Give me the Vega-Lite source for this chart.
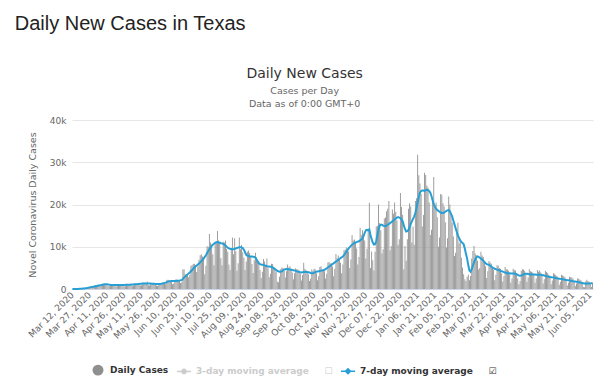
{
"$schema": "https://vega.github.io/schema/vega-lite/v6.json",
"background": "white",
"padding": {"left": 14, "top": 13, "right": 9, "bottom": 5},
"title": {"text": "Daily New Cases in Texas", "anchor": "start", "frame": "bounds", "font": "Liberation Sans", "fontSize": 20, "fontWeight": "normal", "color": "#222222", "dx": -12, "offset": 33},
"config": {"view": {"stroke": null}, "font": "DejaVu Sans"},
"vconcat": [{
"width": 521,
"height": 169,
"title": {"text": "Daily New Cases", "subtitle": ["Cases per Day", "Data as of 0:00 GMT+0"], "anchor": "middle", "frame": "bounds", "dx": -7, "font": "DejaVu Sans", "fontSize": 14, "fontWeight": "normal", "color": "#333333", "subtitleFont": "DejaVu Sans", "subtitleFontSize": 9.5, "subtitleColor": "#666666", "subtitlePadding": 5, "subtitleLineHeight": 13, "offset": 8},
"data": {"values": [
{"date":"2020-03-12","cases":5,"avg":5},{"date":"2020-03-13","cases":15,"avg":8},{"date":"2020-03-14","cases":10,"avg":10},{"date":"2020-03-15","cases":15,"avg":12},{"date":"2020-03-16","cases":25,"avg":15},{"date":"2020-03-17","cases":40,"avg":20},{"date":"2020-03-18","cases":80,"avg":30},{"date":"2020-03-19","cases":120,"avg":45},{"date":"2020-03-20","cases":160,"avg":65},{"date":"2020-03-21","cases":180,"avg":90},{"date":"2020-03-22","cases":170,"avg":120},{"date":"2020-03-23","cases":300,"avg":160},{"date":"2020-03-24","cases":380,"avg":210},{"date":"2020-03-25","cases":420,"avg":260},{"date":"2020-03-26","cases":500,"avg":320},{"date":"2020-03-27","cases":540,"avg":380},{"date":"2020-03-28","cases":520,"avg":440},{"date":"2020-03-29","cases":430,"avg":490},{"date":"2020-03-30","cases":560,"avg":540},{"date":"2020-03-31","cases":780,"avg":600},
{"date":"2020-04-01","cases":880,"avg":660},{"date":"2020-04-02","cases":940,"avg":720},{"date":"2020-04-03","cases":1000,"avg":780},{"date":"2020-04-04","cases":900,"avg":830},{"date":"2020-04-05","cases":700,"avg":880},{"date":"2020-04-06","cases":800,"avg":930},{"date":"2020-04-07","cases":1150,"avg":990},{"date":"2020-04-08","cases":1250,"avg":1050},{"date":"2020-04-09","cases":1200,"avg":1100},{"date":"2020-04-10","cases":1150,"avg":1120},{"date":"2020-04-11","cases":900,"avg":1100},{"date":"2020-04-12","cases":650,"avg":1060},{"date":"2020-04-13","cases":700,"avg":1020},{"date":"2020-04-14","cases":1050,"avg":990},{"date":"2020-04-15","cases":1100,"avg":970},{"date":"2020-04-16","cases":1050,"avg":960},{"date":"2020-04-17","cases":1000,"avg":950},{"date":"2020-04-18","cases":850,"avg":950},{"date":"2020-04-19","cases":600,"avg":940},{"date":"2020-04-20","cases":720,"avg":940},{"date":"2020-04-21","cases":1100,"avg":950},{"date":"2020-04-22","cases":1150,"avg":950},{"date":"2020-04-23","cases":1100,"avg":960},{"date":"2020-04-24","cases":1050,"avg":960},{"date":"2020-04-25","cases":900,"avg":970},{"date":"2020-04-26","cases":580,"avg":970},{"date":"2020-04-27","cases":750,"avg":980},{"date":"2020-04-28","cases":1150,"avg":990},{"date":"2020-04-29","cases":1200,"avg":1000},{"date":"2020-04-30","cases":1150,"avg":1010},
{"date":"2020-05-01","cases":1150,"avg":1030},{"date":"2020-05-02","cases":1000,"avg":1050},{"date":"2020-05-03","cases":700,"avg":1070},{"date":"2020-05-04","cases":800,"avg":1090},{"date":"2020-05-05","cases":1250,"avg":1110},{"date":"2020-05-06","cases":1300,"avg":1130},{"date":"2020-05-07","cases":1250,"avg":1150},{"date":"2020-05-08","cases":1300,"avg":1180},{"date":"2020-05-09","cases":1100,"avg":1210},{"date":"2020-05-10","cases":800,"avg":1240},{"date":"2020-05-11","cases":900,"avg":1260},{"date":"2020-05-12","cases":1500,"avg":1280},{"date":"2020-05-13","cases":1450,"avg":1300},{"date":"2020-05-14","cases":1400,"avg":1310},{"date":"2020-05-15","cases":1450,"avg":1320},{"date":"2020-05-16","cases":1800,"avg":1330},{"date":"2020-05-17","cases":900,"avg":1320},{"date":"2020-05-18","cases":850,"avg":1300},{"date":"2020-05-19","cases":1300,"avg":1280},{"date":"2020-05-20","cases":1250,"avg":1260},{"date":"2020-05-21","cases":1200,"avg":1240},{"date":"2020-05-22","cases":1250,"avg":1220},{"date":"2020-05-23","cases":1100,"avg":1200},{"date":"2020-05-24","cases":800,"avg":1190},{"date":"2020-05-25","cases":700,"avg":1180},{"date":"2020-05-26","cases":1100,"avg":1190},{"date":"2020-05-27","cases":1300,"avg":1210},{"date":"2020-05-28","cases":1350,"avg":1240},{"date":"2020-05-29","cases":1500,"avg":1280},{"date":"2020-05-30","cases":1600,"avg":1330},{"date":"2020-05-31","cases":1300,"avg":1400},
{"date":"2020-06-01","cases":1100,"avg":1500},{"date":"2020-06-02","cases":2100,"avg":1620},{"date":"2020-06-03","cases":2200,"avg":1750},{"date":"2020-06-04","cases":2000,"avg":1830},{"date":"2020-06-05","cases":1900,"avg":1860},{"date":"2020-06-06","cases":1800,"avg":1880},{"date":"2020-06-07","cases":1100,"avg":1890},{"date":"2020-06-08","cases":1300,"avg":1900},{"date":"2020-06-09","cases":2100,"avg":1900},{"date":"2020-06-10","cases":2300,"avg":1920},{"date":"2020-06-11","cases":2200,"avg":1950},{"date":"2020-06-12","cases":2100,"avg":1980},{"date":"2020-06-13","cases":2000,"avg":2010},{"date":"2020-06-14","cases":1400,"avg":2050},{"date":"2020-06-15","cases":1600,"avg":2100},{"date":"2020-06-16","cases":4600,"avg":2400},{"date":"2020-06-17","cases":4700,"avg":2700},{"date":"2020-06-18","cases":3500,"avg":2950},{"date":"2020-06-19","cases":3400,"avg":3200},{"date":"2020-06-20","cases":3500,"avg":3450},{"date":"2020-06-21","cases":2800,"avg":3650},{"date":"2020-06-22","cases":3300,"avg":3900},{"date":"2020-06-23","cases":5500,"avg":4200},{"date":"2020-06-24","cases":5600,"avg":4500},{"date":"2020-06-25","cases":5900,"avg":4800},{"date":"2020-06-26","cases":6000,"avg":5100},{"date":"2020-06-27","cases":5700,"avg":5350},{"date":"2020-06-28","cases":4000,"avg":5550},{"date":"2020-06-29","cases":5300,"avg":5800},{"date":"2020-06-30","cases":6900,"avg":6050},
{"date":"2020-07-01","cases":8000,"avg":6300},{"date":"2020-07-02","cases":8200,"avg":6600},{"date":"2020-07-03","cases":7700,"avg":6900},{"date":"2020-07-04","cases":7400,"avg":7200},{"date":"2020-07-05","cases":3500,"avg":7600},{"date":"2020-07-06","cases":5500,"avg":8000},{"date":"2020-07-07","cases":10100,"avg":8500},{"date":"2020-07-08","cases":10000,"avg":9000},{"date":"2020-07-09","cases":13000,"avg":9400},{"date":"2020-07-10","cases":11000,"avg":9800},{"date":"2020-07-11","cases":10500,"avg":10200},{"date":"2020-07-12","cases":8200,"avg":10500},{"date":"2020-07-13","cases":5600,"avg":10700},{"date":"2020-07-14","cases":10700,"avg":10900},{"date":"2020-07-15","cases":11000,"avg":11050},{"date":"2020-07-16","cases":13700,"avg":11100},{"date":"2020-07-17","cases":11500,"avg":11050},{"date":"2020-07-18","cases":11000,"avg":10950},{"date":"2020-07-19","cases":7300,"avg":10850},{"date":"2020-07-20","cases":5600,"avg":10800},{"date":"2020-07-21","cases":11200,"avg":10700},{"date":"2020-07-22","cases":11000,"avg":10500},{"date":"2020-07-23","cases":11500,"avg":10300},{"date":"2020-07-24","cases":9500,"avg":10000},{"date":"2020-07-25","cases":8800,"avg":9800},{"date":"2020-07-26","cases":5800,"avg":9600},{"date":"2020-07-27","cases":4500,"avg":9500},{"date":"2020-07-28","cases":9500,"avg":9450},{"date":"2020-07-29","cases":12200,"avg":9400},{"date":"2020-07-30","cases":8200,"avg":9400},{"date":"2020-07-31","cases":12000,"avg":9500},
{"date":"2020-08-01","cases":9000,"avg":9600},{"date":"2020-08-02","cases":4300,"avg":9700},{"date":"2020-08-03","cases":6100,"avg":9800},{"date":"2020-08-04","cases":12200,"avg":9900},{"date":"2020-08-05","cases":9400,"avg":9900},{"date":"2020-08-06","cases":10400,"avg":9850},{"date":"2020-08-07","cases":8700,"avg":9700},{"date":"2020-08-08","cases":7400,"avg":9300},{"date":"2020-08-09","cases":4500,"avg":8700},{"date":"2020-08-10","cases":6500,"avg":8100},{"date":"2020-08-11","cases":8800,"avg":7900},{"date":"2020-08-12","cases":9100,"avg":7800},{"date":"2020-08-13","cases":8500,"avg":7700},{"date":"2020-08-14","cases":7800,"avg":7700},{"date":"2020-08-15","cases":5900,"avg":7700},{"date":"2020-08-16","cases":3800,"avg":7650},{"date":"2020-08-17","cases":6800,"avg":7600},{"date":"2020-08-18","cases":8600,"avg":7400},{"date":"2020-08-19","cases":7500,"avg":7000},{"date":"2020-08-20","cases":6800,"avg":6500},{"date":"2020-08-21","cases":6500,"avg":6100},{"date":"2020-08-22","cases":4500,"avg":5900},{"date":"2020-08-23","cases":2600,"avg":5800},{"date":"2020-08-24","cases":4100,"avg":5750},{"date":"2020-08-25","cases":7100,"avg":5700},{"date":"2020-08-26","cases":6500,"avg":5600},{"date":"2020-08-27","cases":5700,"avg":5500},{"date":"2020-08-28","cases":7200,"avg":5400},{"date":"2020-08-29","cases":4900,"avg":5350},{"date":"2020-08-30","cases":2800,"avg":5300},{"date":"2020-08-31","cases":3600,"avg":5250},
{"date":"2020-09-01","cases":6000,"avg":5200},{"date":"2020-09-02","cases":5900,"avg":5100},{"date":"2020-09-03","cases":5200,"avg":4900},{"date":"2020-09-04","cases":4800,"avg":4700},{"date":"2020-09-05","cases":4100,"avg":4500},{"date":"2020-09-06","cases":1800,"avg":4300},{"date":"2020-09-07","cases":1600,"avg":4200},{"date":"2020-09-08","cases":2900,"avg":4100},{"date":"2020-09-09","cases":4700,"avg":4100},{"date":"2020-09-10","cases":5100,"avg":4200},{"date":"2020-09-11","cases":5000,"avg":4400},{"date":"2020-09-12","cases":4300,"avg":4600},{"date":"2020-09-13","cases":2700,"avg":4700},{"date":"2020-09-14","cases":4200,"avg":4750},{"date":"2020-09-15","cases":5800,"avg":4700},{"date":"2020-09-16","cases":5100,"avg":4650},{"date":"2020-09-17","cases":5400,"avg":4600},{"date":"2020-09-18","cases":4800,"avg":4550},{"date":"2020-09-19","cases":3900,"avg":4500},{"date":"2020-09-20","cases":2300,"avg":4450},{"date":"2020-09-21","cases":3700,"avg":4400},{"date":"2020-09-22","cases":4900,"avg":4300},{"date":"2020-09-23","cases":4700,"avg":4200},{"date":"2020-09-24","cases":4600,"avg":4100},{"date":"2020-09-25","cases":4400,"avg":4000},{"date":"2020-09-26","cases":3600,"avg":3950},{"date":"2020-09-27","cases":2000,"avg":3900},{"date":"2020-09-28","cases":3300,"avg":3950},{"date":"2020-09-29","cases":6200,"avg":4000},{"date":"2020-09-30","cases":4800,"avg":4050},
{"date":"2020-10-01","cases":4500,"avg":4050},{"date":"2020-10-02","cases":4200,"avg":4000},{"date":"2020-10-03","cases":3500,"avg":3950},{"date":"2020-10-04","cases":1900,"avg":3900},{"date":"2020-10-05","cases":2400,"avg":3800},{"date":"2020-10-06","cases":4600,"avg":3750},{"date":"2020-10-07","cases":4300,"avg":3750},{"date":"2020-10-08","cases":4800,"avg":3850},{"date":"2020-10-09","cases":4600,"avg":4000},{"date":"2020-10-10","cases":3700,"avg":4100},{"date":"2020-10-11","cases":2100,"avg":4150},{"date":"2020-10-12","cases":3000,"avg":4200},{"date":"2020-10-13","cases":5200,"avg":4250},{"date":"2020-10-14","cases":5400,"avg":4350},{"date":"2020-10-15","cases":4700,"avg":4400},{"date":"2020-10-16","cases":4400,"avg":4450},{"date":"2020-10-17","cases":4200,"avg":4550},{"date":"2020-10-18","cases":2500,"avg":4700},{"date":"2020-10-19","cases":3600,"avg":4900},{"date":"2020-10-20","cases":6300,"avg":5100},{"date":"2020-10-21","cases":6400,"avg":5300},{"date":"2020-10-22","cases":6100,"avg":5500},{"date":"2020-10-23","cases":6000,"avg":5700},{"date":"2020-10-24","cases":5300,"avg":5900},{"date":"2020-10-25","cases":3000,"avg":6100},{"date":"2020-10-26","cases":4800,"avg":6300},{"date":"2020-10-27","cases":8300,"avg":6500},{"date":"2020-10-28","cases":7300,"avg":6700},{"date":"2020-10-29","cases":7900,"avg":6900},{"date":"2020-10-30","cases":7200,"avg":7100},{"date":"2020-10-31","cases":6200,"avg":7300},
{"date":"2020-11-01","cases":3700,"avg":7500},{"date":"2020-11-02","cases":5800,"avg":7700},{"date":"2020-11-03","cases":9200,"avg":8000},{"date":"2020-11-04","cases":9300,"avg":8400},{"date":"2020-11-05","cases":9800,"avg":8800},{"date":"2020-11-06","cases":9500,"avg":9200},{"date":"2020-11-07","cases":8900,"avg":9600},{"date":"2020-11-08","cases":5000,"avg":9900},{"date":"2020-11-09","cases":7000,"avg":10200},{"date":"2020-11-10","cases":12700,"avg":10500},{"date":"2020-11-11","cases":11500,"avg":10700},{"date":"2020-11-12","cases":11700,"avg":10900},{"date":"2020-11-13","cases":10900,"avg":11000},{"date":"2020-11-14","cases":9600,"avg":11100},{"date":"2020-11-15","cases":5800,"avg":11200},{"date":"2020-11-16","cases":7600,"avg":11300},{"date":"2020-11-17","cases":14500,"avg":11500},{"date":"2020-11-18","cases":12800,"avg":11700},{"date":"2020-11-19","cases":13900,"avg":12000},{"date":"2020-11-20","cases":12900,"avg":12500},{"date":"2020-11-21","cases":11500,"avg":13300},{"date":"2020-11-22","cases":7200,"avg":13900},{"date":"2020-11-23","cases":9500,"avg":14000},{"date":"2020-11-24","cases":14000,"avg":13900},{"date":"2020-11-25","cases":20400,"avg":14100},{"date":"2020-11-26","cases":5000,"avg":12800},{"date":"2020-11-27","cases":8900,"avg":11800},{"date":"2020-11-28","cases":6800,"avg":11000},{"date":"2020-11-29","cases":4400,"avg":10500},{"date":"2020-11-30","cases":8800,"avg":10600},
{"date":"2020-12-01","cases":14800,"avg":11300},{"date":"2020-12-02","cases":15000,"avg":12800},{"date":"2020-12-03","cases":20000,"avg":14000},{"date":"2020-12-04","cases":15600,"avg":15000},{"date":"2020-12-05","cases":13900,"avg":15200},{"date":"2020-12-06","cases":8400,"avg":15200},{"date":"2020-12-07","cases":9400,"avg":15000},{"date":"2020-12-08","cases":16700,"avg":14900},{"date":"2020-12-09","cases":16900,"avg":14900},{"date":"2020-12-10","cases":18400,"avg":15000},{"date":"2020-12-11","cases":19000,"avg":15200},{"date":"2020-12-12","cases":20800,"avg":15400},{"date":"2020-12-13","cases":9200,"avg":15600},{"date":"2020-12-14","cases":10200,"avg":15800},{"date":"2020-12-15","cases":18800,"avg":16000},{"date":"2020-12-16","cases":17800,"avg":16200},{"date":"2020-12-17","cases":20500,"avg":16500},{"date":"2020-12-18","cases":18300,"avg":16700},{"date":"2020-12-19","cases":16300,"avg":16900},{"date":"2020-12-20","cases":10500,"avg":17000},{"date":"2020-12-21","cases":11800,"avg":16900},{"date":"2020-12-22","cases":22700,"avg":16800},{"date":"2020-12-23","cases":19400,"avg":16500},{"date":"2020-12-24","cases":17600,"avg":16000},{"date":"2020-12-25","cases":4700,"avg":15000},{"date":"2020-12-26","cases":10200,"avg":14200},{"date":"2020-12-27","cases":6700,"avg":13600},{"date":"2020-12-28","cases":11800,"avg":13700},{"date":"2020-12-29","cases":19000,"avg":14000},{"date":"2020-12-30","cases":20300,"avg":14600},{"date":"2020-12-31","cases":19500,"avg":15400},
{"date":"2021-01-01","cases":11000,"avg":16000},{"date":"2021-01-02","cases":14800,"avg":16600},{"date":"2021-01-03","cases":10500,"avg":17200},{"date":"2021-01-04","cases":20800,"avg":18000},{"date":"2021-01-05","cases":21500,"avg":19200},{"date":"2021-01-06","cases":31800,"avg":20500},{"date":"2021-01-07","cases":26900,"avg":21800},{"date":"2021-01-08","cases":25000,"avg":22800},{"date":"2021-01-09","cases":22500,"avg":23200},{"date":"2021-01-10","cases":14800,"avg":23300},{"date":"2021-01-11","cases":17500,"avg":23300},{"date":"2021-01-12","cases":27500,"avg":23200},{"date":"2021-01-13","cases":27000,"avg":23400},{"date":"2021-01-14","cases":24500,"avg":23500},{"date":"2021-01-15","cases":24000,"avg":23400},{"date":"2021-01-16","cases":20500,"avg":23200},{"date":"2021-01-17","cases":12800,"avg":22800},{"date":"2021-01-18","cases":14000,"avg":22000},{"date":"2021-01-19","cases":21400,"avg":21000},{"date":"2021-01-20","cases":26500,"avg":20100},{"date":"2021-01-21","cases":19800,"avg":19500},{"date":"2021-01-22","cases":20500,"avg":19000},{"date":"2021-01-23","cases":17000,"avg":18700},{"date":"2021-01-24","cases":10000,"avg":18500},{"date":"2021-01-25","cases":12200,"avg":18300},{"date":"2021-01-26","cases":22500,"avg":18100},{"date":"2021-01-27","cases":22300,"avg":18000},{"date":"2021-01-28","cases":20300,"avg":18000},{"date":"2021-01-29","cases":19500,"avg":18100},{"date":"2021-01-30","cases":15800,"avg":18300},{"date":"2021-01-31","cases":9800,"avg":18500},
{"date":"2021-02-01","cases":12000,"avg":18600},{"date":"2021-02-02","cases":21900,"avg":18700},{"date":"2021-02-03","cases":20000,"avg":18400},{"date":"2021-02-04","cases":18000,"avg":17800},{"date":"2021-02-05","cases":15700,"avg":17200},{"date":"2021-02-06","cases":12400,"avg":16200},{"date":"2021-02-07","cases":7800,"avg":15300},{"date":"2021-02-08","cases":8600,"avg":14400},{"date":"2021-02-09","cases":13900,"avg":13500},{"date":"2021-02-10","cases":15700,"avg":12700},{"date":"2021-02-11","cases":10800,"avg":12100},{"date":"2021-02-12","cases":11800,"avg":11500},{"date":"2021-02-13","cases":7400,"avg":11100},{"date":"2021-02-14","cases":5100,"avg":10900},{"date":"2021-02-15","cases":3500,"avg":10600},{"date":"2021-02-16","cases":2300,"avg":9500},{"date":"2021-02-17","cases":1900,"avg":8300},{"date":"2021-02-18","cases":2900,"avg":7200},{"date":"2021-02-19","cases":3400,"avg":5600},{"date":"2021-02-20","cases":2100,"avg":4400},{"date":"2021-02-21","cases":3100,"avg":4100},{"date":"2021-02-22","cases":7200,"avg":4700},{"date":"2021-02-23","cases":9000,"avg":5500},{"date":"2021-02-24","cases":10200,"avg":6300},{"date":"2021-02-25","cases":8400,"avg":7000},{"date":"2021-02-26","cases":8000,"avg":7500},{"date":"2021-02-27","cases":6700,"avg":7700},{"date":"2021-02-28","cases":4600,"avg":7600},
{"date":"2021-03-01","cases":5000,"avg":7400},{"date":"2021-03-02","cases":8800,"avg":7200},{"date":"2021-03-03","cases":7900,"avg":7000},{"date":"2021-03-04","cases":7600,"avg":6700},{"date":"2021-03-05","cases":6500,"avg":6400},{"date":"2021-03-06","cases":5400,"avg":6100},{"date":"2021-03-07","cases":2600,"avg":5900},{"date":"2021-03-08","cases":4200,"avg":5800},{"date":"2021-03-09","cases":6600,"avg":5700},{"date":"2021-03-10","cases":6300,"avg":5500},{"date":"2021-03-11","cases":6000,"avg":5300},{"date":"2021-03-12","cases":5100,"avg":5100},{"date":"2021-03-13","cases":4500,"avg":4900},{"date":"2021-03-14","cases":2100,"avg":4800},{"date":"2021-03-15","cases":3400,"avg":4700},{"date":"2021-03-16","cases":5600,"avg":4600},{"date":"2021-03-17","cases":5500,"avg":4500},{"date":"2021-03-18","cases":5000,"avg":4400},{"date":"2021-03-19","cases":4800,"avg":4300},{"date":"2021-03-20","cases":3700,"avg":4200},{"date":"2021-03-21","cases":1800,"avg":4100},{"date":"2021-03-22","cases":3100,"avg":4000},{"date":"2021-03-23","cases":5200,"avg":3900},{"date":"2021-03-24","cases":4700,"avg":3800},{"date":"2021-03-25","cases":4600,"avg":3750},{"date":"2021-03-26","cases":4300,"avg":3700},{"date":"2021-03-27","cases":3500,"avg":3700},{"date":"2021-03-28","cases":1500,"avg":3650},{"date":"2021-03-29","cases":2500,"avg":3650},{"date":"2021-03-30","cases":4800,"avg":3650},{"date":"2021-03-31","cases":4500,"avg":3650},
{"date":"2021-04-01","cases":4400,"avg":3600},{"date":"2021-04-02","cases":3600,"avg":3500},{"date":"2021-04-03","cases":2500,"avg":3350},{"date":"2021-04-04","cases":1100,"avg":3200},{"date":"2021-04-05","cases":1900,"avg":3150},{"date":"2021-04-06","cases":4300,"avg":3200},{"date":"2021-04-07","cases":4700,"avg":3300},{"date":"2021-04-08","cases":4600,"avg":3450},{"date":"2021-04-09","cases":4300,"avg":3550},{"date":"2021-04-10","cases":3700,"avg":3600},{"date":"2021-04-11","cases":1700,"avg":3600},{"date":"2021-04-12","cases":2700,"avg":3550},{"date":"2021-04-13","cases":4700,"avg":3500},{"date":"2021-04-14","cases":4200,"avg":3450},{"date":"2021-04-15","cases":4100,"avg":3450},{"date":"2021-04-16","cases":3900,"avg":3450},{"date":"2021-04-17","cases":3300,"avg":3450},{"date":"2021-04-18","cases":1500,"avg":3450},{"date":"2021-04-19","cases":2500,"avg":3400},{"date":"2021-04-20","cases":4500,"avg":3400},{"date":"2021-04-21","cases":4100,"avg":3400},{"date":"2021-04-22","cases":4400,"avg":3400},{"date":"2021-04-23","cases":3900,"avg":3350},{"date":"2021-04-24","cases":3200,"avg":3300},{"date":"2021-04-25","cases":1300,"avg":3250},{"date":"2021-04-26","cases":2300,"avg":3200},{"date":"2021-04-27","cases":4300,"avg":3100},{"date":"2021-04-28","cases":4000,"avg":3000},{"date":"2021-04-29","cases":3800,"avg":2950},{"date":"2021-04-30","cases":3400,"avg":2900},
{"date":"2021-05-01","cases":2700,"avg":2850},{"date":"2021-05-02","cases":1100,"avg":2800},{"date":"2021-05-03","cases":2000,"avg":2750},{"date":"2021-05-04","cases":3700,"avg":2700},{"date":"2021-05-05","cases":3500,"avg":2650},{"date":"2021-05-06","cases":3300,"avg":2600},{"date":"2021-05-07","cases":3100,"avg":2550},{"date":"2021-05-08","cases":2600,"avg":2500},{"date":"2021-05-09","cases":1000,"avg":2450},{"date":"2021-05-10","cases":1700,"avg":2400},{"date":"2021-05-11","cases":3400,"avg":2350},{"date":"2021-05-12","cases":3200,"avg":2300},{"date":"2021-05-13","cases":3000,"avg":2250},{"date":"2021-05-14","cases":2800,"avg":2200},{"date":"2021-05-15","cases":2200,"avg":2150},{"date":"2021-05-16","cases":800,"avg":2100},{"date":"2021-05-17","cases":1500,"avg":2050},{"date":"2021-05-18","cases":2900,"avg":2000},{"date":"2021-05-19","cases":2800,"avg":1950},{"date":"2021-05-20","cases":2700,"avg":1900},{"date":"2021-05-21","cases":2500,"avg":1850},{"date":"2021-05-22","cases":1900,"avg":1800},{"date":"2021-05-23","cases":700,"avg":1750},{"date":"2021-05-24","cases":1300,"avg":1700},{"date":"2021-05-25","cases":2500,"avg":1650},{"date":"2021-05-26","cases":2400,"avg":1600},{"date":"2021-05-27","cases":2200,"avg":1550},{"date":"2021-05-28","cases":2000,"avg":1500},{"date":"2021-05-29","cases":1400,"avg":1400},{"date":"2021-05-30","cases":500,"avg":1350},{"date":"2021-05-31","cases":400,"avg":1300},
{"date":"2021-06-01","cases":1800,"avg":1250},{"date":"2021-06-02","cases":2200,"avg":1280},{"date":"2021-06-03","cases":1900,"avg":1300},{"date":"2021-06-04","cases":1700,"avg":1320},{"date":"2021-06-05","cases":1100,"avg":1330},{"date":"2021-06-06","cases":500,"avg":1350},{"date":"2021-06-07","cases":1500,"avg":1350}
]},
"layer": [
{"mark": {"type": "bar"},
 "encoding": {
  "x": {"field": "date", "type": "ordinal", "title": null,
    "scale": {"paddingInner": 0.25, "paddingOuter": 0},
    "axis": {"values": ["2020-03-12","2020-03-27","2020-04-11","2020-04-26","2020-05-11","2020-05-26","2020-06-10","2020-06-25","2020-07-10","2020-07-25","2020-08-09","2020-08-24","2020-09-08","2020-09-23","2020-10-08","2020-10-23","2020-11-07","2020-11-22","2020-12-07","2020-12-22","2021-01-06","2021-01-21","2021-02-05","2021-02-20","2021-03-07","2021-03-22","2021-04-06","2021-04-21","2021-05-06","2021-05-21","2021-06-05"],
      "labelExpr": "utcFormat(toDate(datum.value), '%b %d, %Y')",
      "labelAngle": -45, "labelAlign": "right", "labelBaseline": "middle",
      "labelFont": "DejaVu Sans", "labelFontSize": 9, "labelColor": "#666666",
      "labelPadding": 4, "labelOverlap": false, "labelBound": false,
      "ticks": false, "grid": false, "domainColor": "#ccd6eb", "domainWidth": 1}},
  "y": {"field": "cases", "type": "quantitative", "title": "Novel Coronavirus Daily Cases",
    "scale": {"domain": [0, 40000]},
    "axis": {"values": [0, 10000, 20000, 30000, 40000], "labelExpr": "datum.value == 0 ? '0' : (datum.value / 1000) + 'k'", "domain": false, "ticks": false,
      "gridColor": "#e6e6e6", "labelFont": "DejaVu Sans", "labelFontSize": 9, "labelColor": "#666666", "labelPadding": 6,
      "titleFont": "DejaVu Sans", "titleFontSize": 9.5, "titleFontWeight": "normal", "titleColor": "#666666", "titlePadding": 12}},
  "color": {"datum": "Daily Cases", "type": "nominal",
    "scale": {"domain": ["Daily Cases", "3-day moving average", "7-day moving average"], "range": ["#8f8f8f", "#cccccc", "#289fd4"]},
    "legend": {"orient": "none", "legendX": 18, "legendY": 242, "direction": "horizontal", "title": null,
      "labelFont": "DejaVu Sans", "labelFontSize": 9, "labelFontWeight": "bold", "labelColor": "#333333",
      "symbolSize": 200, "columnPadding": 4,
      "labelExpr": "datum.value == 'Daily Cases' ? datum.label : datum.value == '3-day moving average' ? datum.label + '\u00a0\u00a0\u00a0\u00a0\u00a0☐' : datum.label + '\u00a0\u00a0\u00a0\u00a0\u00a0☑'",
      "encode": {
        "labels": {"update": {"fill": {"signal": "datum.value == '3-day moving average' ? '#cccccc' : '#333333'"}}},
        "symbols": {"update": {
          "shape": {"signal": "datum.value == 'Daily Cases' ? 'circle' : datum.value == '3-day moving average' ? 'M-1,0H1M-0.3,0A0.3,0.3 0 1,1 0.3,0A0.3,0.3 0 1,1 -0.3,0Z' : 'M-1,0H1M0,-0.35L0.35,0L0,0.35L-0.35,0Z'"},
          "size": {"signal": "datum.value == 'Daily Cases' ? 90 : 200"},
          "fill": {"signal": "datum.value == 'Daily Cases' ? '#999999' : datum.value == '3-day moving average' ? '#cccccc' : '#289fd4'"},
          "stroke": {"signal": "datum.value == 'Daily Cases' ? '#999999' : datum.value == '3-day moving average' ? '#cccccc' : '#289fd4'"},
          "strokeWidth": {"value": 1.5},
          "opacity": {"value": 1}}}}}}
 }},
{"mark": {"type": "line", "strokeWidth": 2},
 "encoding": {
  "x": {"field": "date", "type": "ordinal"},
  "y": {"field": "avg", "type": "quantitative"},
  "color": {"datum": "7-day moving average", "type": "nominal"}
 }}
]
}]
}
